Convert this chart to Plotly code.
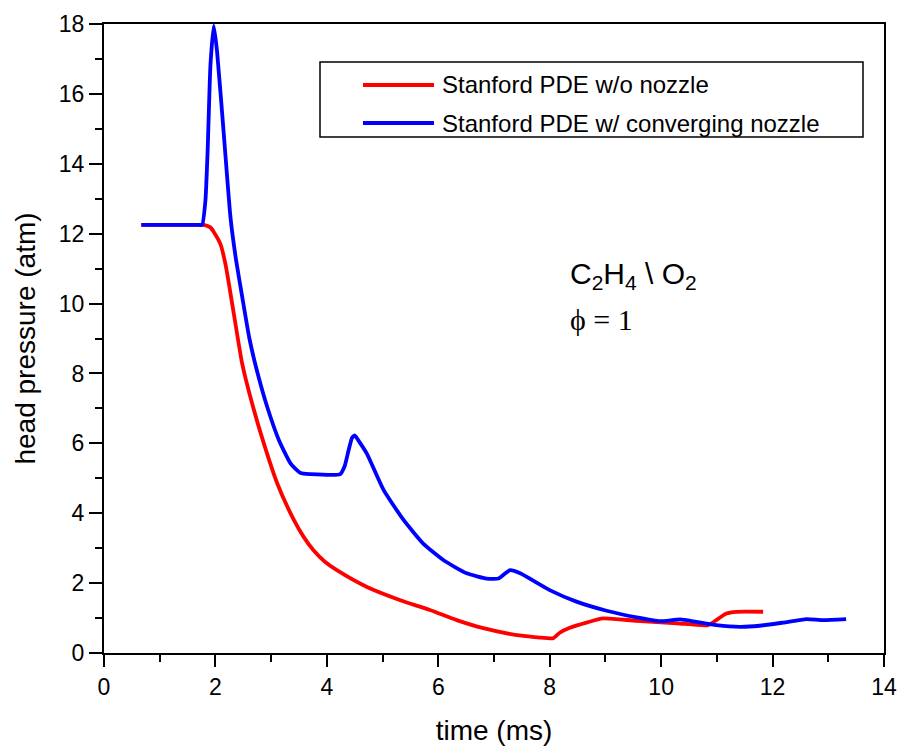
import plotly.graph_objects as go

# ---- data ----
t_nozzle = [0.67, 1.2, 1.7, 1.76, 1.82, 1.86, 1.91, 1.97, 2.03, 2.15, 2.27, 2.37, 2.48, 2.61, 2.75, 2.93,
            3.14, 3.35, 3.53, 3.7, 4.24, 4.32, 4.39, 4.45, 4.50, 4.58, 4.72, 5.02, 5.38, 5.73,
            6.09, 6.51, 6.87, 7.08, 7.18, 7.29, 7.47, 8.0, 8.48, 9.02, 9.56, 9.98, 10.34,
            10.63, 10.99, 11.41, 11.77, 12.19, 12.61, 12.9, 13.32]
p_nozzle = [12.25, 12.25, 12.25, 12.25, 12.94, 14.37, 16.8, 17.95, 17.2, 14.85, 12.47, 11.25, 10.2, 9.0, 8.05, 7.04,
            6.09, 5.42, 5.15, 5.12, 5.12, 5.35, 5.8, 6.15, 6.23, 6.05, 5.7, 4.66, 3.8, 3.13,
            2.66, 2.28, 2.13, 2.13, 2.25, 2.37, 2.28, 1.8, 1.47, 1.21, 1.02, 0.91, 0.96,
            0.89, 0.8, 0.75, 0.78, 0.87, 0.97, 0.94, 0.97]

t_plain = [0.67, 1.2, 1.72, 1.79, 1.91, 1.97, 2.09, 2.18, 2.33, 2.48, 2.66, 2.87, 3.11, 3.41, 3.58, 3.76, 3.96,
           4.18, 4.72, 5.32, 5.85, 6.33, 6.81, 7.41, 8.0, 8.06, 8.18, 8.36, 8.66, 8.96, 9.56, 10.28,
           10.84, 10.99, 11.17, 11.35, 11.83]
p_plain = [12.25, 12.25, 12.25, 12.25, 12.18, 12.05, 11.7, 11.13, 9.71, 8.28, 7.13, 5.99, 4.85, 3.8, 3.33, 2.94, 2.62,
           2.37, 1.89, 1.51, 1.23, 0.94, 0.71, 0.51, 0.42, 0.42, 0.58, 0.72, 0.87, 0.99, 0.92, 0.85,
           0.8, 0.94, 1.13, 1.18, 1.18]

series_names = ["Stanford PDE w/o nozzle", "Stanford PDE w/ converging nozzle"]
series_colors = ["#ff0000", "#0000ff"]
x_ticks = [0, 2, 4, 6, 8, 10, 12, 14]
y_ticks = [0, 2, 4, 6, 8, 10, 12, 14, 16, 18]

FONT = "Liberation Sans, Arial, sans-serif"

fig = go.Figure()
fig.add_trace(go.Scatter(x=t_plain, y=p_plain, mode="lines", name=series_names[0],
                         line=dict(color=series_colors[0], width=3.8, shape="spline", smoothing=0.6),
                         showlegend=False))
fig.add_trace(go.Scatter(x=t_nozzle, y=p_nozzle, mode="lines", name=series_names[1],
                         line=dict(color=series_colors[1], width=3.8, shape="spline", smoothing=0.5),
                         showlegend=False))

W, H = 899, 746
SL, SR, ST, SB = 104, 884, 24, 653          # plot area in pixels
L, T, R, B = SL, ST, W - SR, H - SB
pw, ph = SR - SL, SB - ST

def px(xp):
    return (xp - SL) / pw

def py(yp):
    return (SB - yp) / ph

axis_common = dict(showline=True, linecolor="black", linewidth=2, showgrid=False,
                   zeroline=False, tickcolor="black", tickwidth=2, automargin=False)

fig.update_layout(
    width=W, height=H,
    margin=dict(l=L, r=R, t=T, b=B, autoexpand=False),
    paper_bgcolor="white", plot_bgcolor="white",
    font=dict(family=FONT, color="black"),
    xaxis=dict(range=[0, 14], tickvals=x_ticks, ticktext=[str(v) for v in x_ticks],
               ticks="outside", ticklen=12, mirror=True,
               minor=dict(dtick=1, ticks="outside", ticklen=7, tickwidth=2, tickcolor="black"),
               tickfont=dict(size=23, family=FONT),
               title=dict(text="time (ms)", font=dict(size=28, family=FONT), standoff=26),
               **axis_common),
    yaxis=dict(range=[0, 18], tickvals=y_ticks, ticktext=[str(v) for v in y_ticks],
               ticks="outside", ticklen=13, mirror=True,
               minor=dict(dtick=1, ticks="outside", ticklen=7, tickwidth=2, tickcolor="black"),
               tickfont=dict(size=23, family=FONT),
               title=dict(text="head pressure (atm)", font=dict(size=28, family=FONT), standoff=15),
               **axis_common),
    xaxis2=dict(range=[0, 14], overlaying="x", side="top", anchor="y", tickvals=x_ticks,
                showticklabels=False, ticks="inside", ticklen=12, tickwidth=2, tickcolor="black",
                minor=dict(dtick=1, ticks="inside", ticklen=7, tickwidth=2, tickcolor="black"),
                showgrid=False, zeroline=False, showline=False, automargin=False),
    yaxis2=dict(range=[0, 18], overlaying="y", side="right", anchor="x", tickvals=y_ticks,
                showticklabels=False, ticks="inside", ticklen=12, tickwidth=2, tickcolor="black",
                minor=dict(dtick=1, ticks="inside", ticklen=7, tickwidth=2, tickcolor="black"),
                showgrid=False, zeroline=False, showline=False, automargin=False),
    showlegend=False,
)

# manual legend box (matches the reference layout)
shapes = [dict(type="rect", xref="paper", yref="paper", x0=px(320), x1=px(863), y0=py(137), y1=py(62),
               line=dict(color="black", width=1.5), fillcolor="white", layer="above")]
rows_y = [85, 123]
for name, col, ry in zip(series_names, series_colors, rows_y):
    shapes.append(dict(type="line", xref="paper", yref="paper", x0=px(363), x1=px(434), y0=py(ry), y1=py(ry),
                       line=dict(color=col, width=3.8), layer="above"))
fig.update_layout(shapes=shapes)

annotations = []
for name, ry in zip(series_names, rows_y):
    annotations.append(dict(xref="paper", yref="paper", x=px(440), y=py(ry), xanchor="left", yanchor="middle",
                            text=name, showarrow=False, font=dict(size=24, family=FONT, color="black")))
annotations.append(dict(xref="x", yref="y", x=8.33, y=10.8, xanchor="left", yanchor="middle",
                        text="C<sub>2</sub>H<sub>4</sub> \\ O<sub>2</sub>", showarrow=False,
                        font=dict(size=30, family=FONT, color="black")))
annotations.append(dict(xref="x", yref="y", x=8.33, y=9.55, xanchor="left", yanchor="middle",
                        text="ϕ = 1", showarrow=False,
                        font=dict(size=30, family="Liberation Serif, Times New Roman, serif", color="black")))
fig.update_layout(annotations=annotations)

# remove the default 8 px page margin so the figure fills the 899x746 window exactly
fig.write_html("out.html", config={"displayModeBar": False},
               post_script="document.body.style.margin='0px';document.body.style.overflow='hidden';")
